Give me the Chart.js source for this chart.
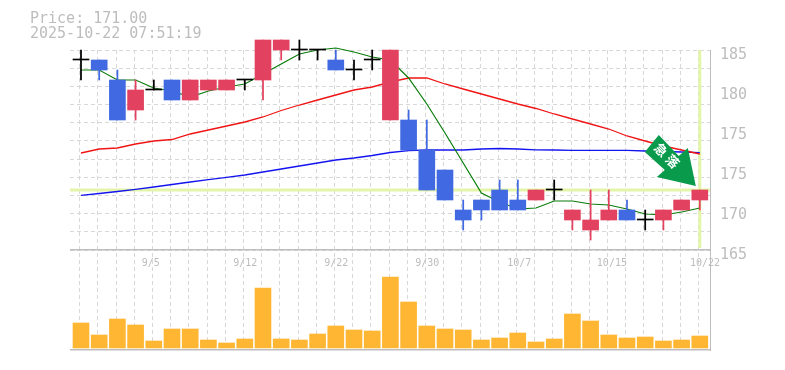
<!DOCTYPE html>
<html>
<head>
<meta charset="utf-8">
<script src="https://cdn.jsdelivr.net/npm/chart.js@4"></script>
<style>
    html, body { margin: 0; padding: 0; background: #fff; }
    #wrap { position: relative; width: 785px; height: 370px; overflow: hidden; }
    #chart { position: absolute; left: 0; top: 0; }
    #head {
        position: absolute; left: 30px; top: 11px;
        font: 15px/15px "DejaVu Sans Mono", monospace;
        color: #bdbdbd; white-space: pre;
    }
</style>
</head>
<body>
<div id="wrap">
    <canvas id="chart" width="785" height="370"></canvas>
    <div id="head">Price: 171.00
2025-10-22 07:51:19</div>
</div>
<script>
const openPrices  = [184,184,182,179,181,182,180,181,181,182,182,185,186,185,184,183,184,178,178,175,173,169,170,171,170,170,171,168,167,168,169,168,168,169,170];
const closePrices = [184,183,178,181,181,180,182,182,182,182,186,186,186,185,183,183,184,185,175,171,170,168,169,169,169,171,171,169,168,169,168,168,169,170,171];
const highPrices  = [185,184,183,182,182,182,182,182,182,182,186,186,186,185,185,184,185,185,179,178,173,170,170,172,172,171,172,169,171,171,170,169,169,170,171];
const lowPrices   = [182,182,178,178,181,180,180,181,181,181,180,184,184,184,183,182,183,178,175,171,170,167,168,169,169,170,170,167,166,168,168,167,167,169,169];
const volumes     = [25,13,29,23,7,19,19,8,5,9,60,9,8,14,22,18,17,71,46,22,19,18,8,10,15,6,9,34,27,13,10,11,7,8,12];

const maShort = [183.0,183.0,182.0,182.0,181.2,180.9,180.3,180.9,181.3,181.6,182.6,183.6,184.6,185.0,185.2,184.8,184.3,184.0,182.2,179.6,176.7,173.7,170.7,169.8,169.1,169.2,169.9,169.9,169.6,169.5,169.1,168.6,168.5,168.8,169.2];
const maMid   = [174.7,175.1,175.2,175.6,175.9,176.05,176.6,177.0,177.4,177.8,178.3,178.95,179.5,180.0,180.5,181.0,181.3,181.8,182.2,182.2,181.6,181.1,180.6,180.1,179.6,179.15,178.6,178.1,177.6,177.1,176.4,175.9,175.4,175.0,174.6];
const maLong  = [170.47,170.65,170.85,171.06,171.3,171.55,171.8,172.03,172.27,172.5,172.8,173.1,173.4,173.7,174.0,174.2,174.45,174.75,174.93,175.0,175.0,175.0,175.1,175.15,175.1,175.02,175.0,174.97,174.97,174.97,174.97,174.9,174.85,174.8,174.73];

const priceLabels = ['165','170','175','175','180','185'];
const priceLabelValues = [164.7,168.7,172.7,176.7,180.7,184.7];
const dateLabels = ['9/5','9/12','9/22','9/30','10/7','10/15','10/22'];
const dateLabelSlots = [3.83,9.03,14.03,19.03,24.08,29.17,34.29];
const currentPrice = 171;
const lastSlot = 34;

const gridGrey = '#d8d8d8';
const frameGrey = '#bdbdbd';
const textGrey = '#bdbdbd';
const upRed = '#e2425f';
const downBlue = '#4169e1';

function candleColor(i) {
    if (openPrices[i] === closePrices[i]) return '#000000';
    return closePrices[i] > openPrices[i] ? upRed : downBlue;
}

const slots = openPrices.map((_, i) => i);
const candleColors = slots.map(candleColor);

function lineSet(values, color, width) {
    return {
        type: 'line',
        data: slots.map(i => ({ x: i, y: values[i] })),
        borderColor: color,
        borderWidth: width,
        pointRadius: 0,
        tension: 0,
        clip: false,
        order: 4
    };
}

// the green badge sitting over the last few candles
const arrowBadge = {
    id: 'arrowBadge',
    afterDatasetsDraw(chart) {
        const ctx = chart.ctx;
        const x = chart.scales.x.getPixelForValue(lastSlot);
        const y = chart.scales.y.getPixelForValue(currentPrice);
        ctx.save();
        ctx.translate(x, y);
        ctx.fillStyle = '#0a9a4c';
        ctx.beginPath();
        ctx.moveTo(-4, -4);
        ctx.lineTo(-43, -13);
        ctx.lineTo(-35, -20);
        ctx.lineTo(-55, -38);
        ctx.lineTo(-41, -55);
        ctx.lineTo(-21, -34);
        ctx.lineTo(-12, -42);
        ctx.closePath();
        ctx.fill();
        ctx.translate(-33, -33);
        ctx.rotate(Math.PI / 4);
        ctx.fillStyle = '#ffffff';
        ctx.font = 'bold 13px "Noto Sans CJK JP"';
        ctx.textAlign = 'center';
        ctx.textBaseline = 'middle';
        ctx.fillText('急', -9, -1);
        ctx.fillText('落', 7, -1);
        ctx.restore();
    }
};

new Chart(document.getElementById('chart').getContext('2d'), {
    type: 'bar',
    plugins: [arrowBadge],
    data: {
        datasets: [
            {
                type: 'line',
                data: [{ x: -0.604, y: currentPrice }, { x: 34.56, y: currentPrice }],
                borderColor: '#e3f5a9',
                borderWidth: 3,
                pointRadius: 0,
                order: 6
            },
            {
                type: 'line',
                data: [{ x: lastSlot, y: 165.2 }, { x: lastSlot, y: 185 }],
                borderColor: '#e3f5a9',
                borderWidth: 3,
                pointRadius: 0,
                order: 6
            },
            lineSet(maShort, '#0a7d0a', 1.2),
            lineSet(maMid, '#f01414', 1.3),
            lineSet(maLong, '#1414f0', 1.3),
            {
                yAxisID: 'yVolume',
                data: slots.map(i => ({ x: i, y: volumes[i] })),
                backgroundColor: '#ffb733',
                barThickness: 16,
                grouped: false,
                order: 3
            },
            {
                data: slots.map(i => ({ x: i, y: [lowPrices[i], highPrices[i]] })),
                backgroundColor: candleColors,
                barThickness: 1.1,
                grouped: false,
                clip: false,
                order: 2
            },
            {
                data: slots.map(i => ({ x: i, y: [openPrices[i], closePrices[i]] })),
                backgroundColor: candleColors,
                barThickness: 16,
                minBarLength: 1,
                grouped: false,
                clip: false,
                order: 1
            }
        ]
    },
    options: {
        responsive: false,
        animation: false,
        layout: { padding: { left: 70, top: 50, right: 0, bottom: 20 } },
        plugins: { legend: { display: false }, tooltip: { enabled: false } },
        scales: {
            x: {
                type: 'linear',
                offset: false,
                min: -0.604,
                max: 34.56,
                border: { display: false, dash: [4, 3] },
                grid: { color: gridGrey, drawTicks: false },
                ticks: { display: false },
                afterBuildTicks(scale) {
                    scale.ticks = slots.concat(35).map(i => ({ value: i - 0.57 }));
                },
                afterFit(scale) { scale.height = 0; scale.paddingLeft = 0; scale.paddingRight = 0; }
            },
            xLabel: {
                type: 'linear',
                axis: 'x',
                position: { y: 165 },
                offset: false,
                min: -0.604,
                max: 34.56,
                border: { display: false },
                grid: { display: false, drawTicks: false },
                ticks: {
                    autoSkip: false,
                    maxRotation: 0,
                    padding: 7,
                    color: textGrey,
                    font: { family: '"DejaVu Sans Mono", monospace', size: 10 },
                    callback: (value, index) => dateLabels[index]
                },
                afterBuildTicks(scale) {
                    scale.ticks = dateLabelSlots.map(v => ({ value: v }));
                }
            },
            y: {
                min: 155,
                max: 185,
                border: { display: false, dash: [4, 3] },
                grid: { color: gridGrey, drawTicks: false },
                ticks: { display: false },
                afterBuildTicks(scale) {
                    const rows = [];
                    for (let k = 0; k <= 11; k++) rows.push({ value: 165 + k * 20 / 11 });
                    scale.ticks = rows;
                },
                afterFit(scale) { scale.width = 0; scale.paddingTop = 0; scale.paddingBottom = 0; }
            },
            yFrame: {
                axis: 'y',
                min: 155,
                max: 185,
                border: { display: false },
                grid: { color: frameGrey, lineWidth: 1.5, drawTicks: false },
                ticks: { display: false },
                afterBuildTicks(scale) {
                    scale.ticks = [{ value: 165 }, { value: 155 }];
                },
                afterFit(scale) { scale.width = 0; scale.paddingTop = 0; scale.paddingBottom = 0; }
            },
            yLabel: {
                axis: 'y',
                position: 'right',
                min: 155,
                max: 185,
                border: { display: true, color: frameGrey, width: 1 },
                grid: { display: false, drawTicks: false },
                ticks: {
                    autoSkip: false,
                    padding: 10,
                    color: textGrey,
                    font: { family: '"DejaVu Sans Mono", monospace', size: 15 },
                    callback: (value, index) => priceLabels[index]
                },
                afterBuildTicks(scale) {
                    scale.ticks = priceLabelValues.map(v => ({ value: v - 0.2 }));
                },
                afterFit(scale) { scale.width = 75; scale.paddingTop = 0; scale.paddingBottom = 0; }
            },
            yVolume: {
                axis: 'y',
                display: false,
                min: -2,
                max: 298
            }
        }
    }
});
</script>
</body>
</html>
